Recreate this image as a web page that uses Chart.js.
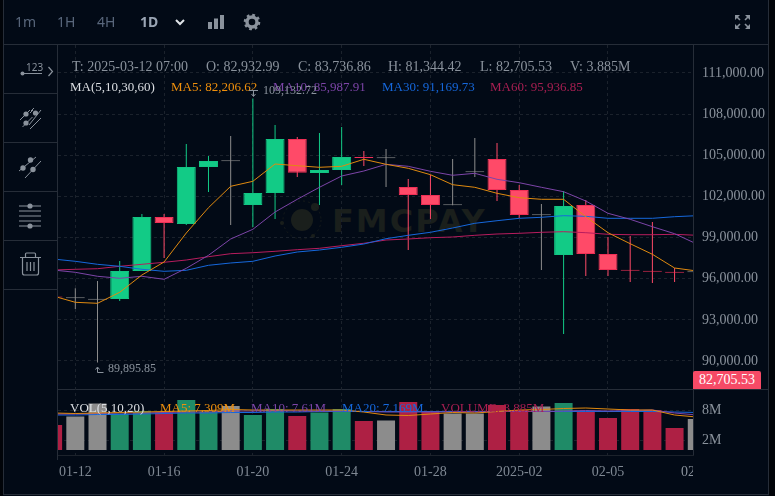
<!DOCTYPE html>
<html><head><meta charset="utf-8">
<style>
html,body{margin:0;padding:0;background:#000;}
#wrap{position:relative;width:775px;height:496px;background:#020a16;overflow:hidden;font-family:"Liberation Serif",serif;}
canvas{position:absolute;left:0;top:0;}
.t{position:absolute;white-space:pre;font-size:14px;line-height:16px;color:#8a929c;}
.tb{position:absolute;white-space:pre;font-family:"Noto Sans",sans-serif;font-size:14px;line-height:18px;color:#59677c;top:13px;}
.ln{position:absolute;background:#262d38;}
svg{position:absolute;overflow:visible;}
</style></head><body>
<div id="wrap">
  <div class="ln" style="left:3px;top:0;width:1px;height:495px"></div>
  <div class="ln" style="left:768px;top:0;width:1px;height:495px"></div>
  <div class="ln" style="left:3px;top:494px;width:766px;height:1px"></div>
  <div style="position:absolute;left:769px;top:0;width:6px;height:496px;background:#010409"></div>
  <div style="position:absolute;left:0;top:0;width:3px;height:496px;background:#010409"></div>
  <div class="ln" style="left:3px;top:44px;width:765px;height:1px"></div>
  <div class="ln" style="left:57px;top:45px;width:1px;height:415px"></div>
  <div class="ln" style="left:693px;top:45px;width:1px;height:410px"></div>
  <div class="ln" style="left:58px;top:389px;width:710px;height:1px"></div>
  <div class="ln" style="left:58px;top:455px;width:636px;height:1px;background:#1c222b"></div>
  <div class="ln" style="left:3px;top:93px;width:54px;height:1px"></div>
  <div class="ln" style="left:3px;top:142px;width:54px;height:1px"></div>
  <div class="ln" style="left:3px;top:191px;width:54px;height:1px"></div>
  <div class="ln" style="left:3px;top:240px;width:54px;height:1px"></div>
  <div class="ln" style="left:3px;top:289px;width:54px;height:1px"></div>

  <!-- watermark -->
  <svg style="left:0;top:0" width="775" height="496">
    <circle cx="302" cy="220" r="11" fill="#1a1f1c"/>
    <circle cx="315" cy="207" r="4" fill="#1a1f1c"/>
    <circle cx="282" cy="223" r="2" fill="#1a1f1c"/>
    <circle cx="313" cy="236" r="2" fill="#1a1f1c"/>
    <circle cx="302" cy="220" r="19" fill="none" stroke="#161b1b" stroke-width="1" stroke-dasharray="2 3"/>
  </svg>
  <div style="position:absolute;left:332px;top:203px;font:bold 32px 'DejaVu Sans',sans-serif;letter-spacing:2px;color:#1a1f1c;line-height:36px">FMCPAY</div>

  <canvas id="c" width="775" height="496"></canvas>

  <!-- toolbar -->
  <div class="tb" style="left:15px">1m</div>
  <div class="tb" style="left:57px">1H</div>
  <div class="tb" style="left:97px">4H</div>
  <div class="tb" style="left:140px;font-weight:700;color:#9aa5b4">1D</div>
  <svg style="left:0;top:0" width="775" height="44">
    <path d="M176 20l4 4 4-4" fill="none" stroke="#dfe3e8" stroke-width="2"/>
    <rect x="208" y="22" width="4" height="7" fill="#8a929c"/><rect x="214" y="18.5" width="4" height="10.5" fill="#8a929c"/><rect x="220" y="15" width="4" height="14" fill="#8a929c"/>
    <circle cx="252" cy="22" r="5" fill="none" stroke="#8a929c" stroke-width="3.4"/>
    <circle cx="252" cy="22" r="7" fill="none" stroke="#8a929c" stroke-width="2.6" stroke-dasharray="2.7 2.8"/>
    <g fill="none" stroke="#8a929c" stroke-width="1.6">
      <path d="M736 16l4 4M749 16l-4 4M736 28l4-4M749 28l-4-4"/>
    </g>
    <g fill="#8a929c">
      <path d="M735 15h5l-5 5zM750 15h-5l5 5zM735 29h5l-5-5zM750 29h-5l5-5z"/>
    </g>
  </svg>

  <!-- sidebar icons -->
  <svg style="left:0;top:0" width="60" height="300">
    <g stroke="#8a929c" fill="#8a929c">
      <path d="M22 73.5H42" stroke-width="1"/><circle cx="22.5" cy="73.5" r="2" stroke="none"/>
      <path d="M48.5 67l4 4.500-4 4.500" fill="none" stroke-width="1.200"/>
      <path d="M20 120l10-10M33 110l-3 3M22.500 127l10-10M30 129l11-11M34 108l-3 3M29 125l12-15" stroke-width="1" fill="none"/>
      <circle cx="26" cy="114" r="2.600" stroke="none"/><circle cx="35.500" cy="113" r="2.600" stroke="none"/><circle cx="26" cy="123" r="2.600" stroke="none"/>
      <path d="M19 171l17-14M25 178l16-17" stroke-width="1" fill="none"/>
      <circle cx="30.500" cy="160" r="2.700" stroke="none"/><circle cx="23" cy="168" r="2.700" stroke="none"/><circle cx="33" cy="169.500" r="2.700" stroke="none"/>
      <path d="M19 206H41M19 211H41M19 216H41M19 221H41M19 226H41" stroke-width="1" fill="none"/>
      <circle cx="30" cy="206" r="2.600" stroke="none"/><circle cx="30" cy="226" r="2.600" stroke="none"/>
      <g fill="none" stroke-width="1.200">
        <path d="M20 257.500H41M25.500 257.500v-3.500a1 1 0 0 1 1-1h8a1 1 0 0 1 1 1v3.500M22.500 258v15a2 2 0 0 0 2 2h12a2 2 0 0 0 2-2v-15M27 262v9M30.500 262v9M34 262v9"/>
      </g>
    </g>
  </svg>
  <div class="t" style="left:26px;top:61px;font:10px/12px 'Noto Sans',sans-serif;color:#8a929c">123</div>

  <!-- legend rows -->
  <div class="t" style="left:72px;top:59px">T: 2025-03-12 07:00</div>
  <div class="t" style="left:206px;top:59px">O: 82,932.99</div>
  <div class="t" style="left:298px;top:59px">C: 83,736.86</div>
  <div class="t" style="left:388px;top:59px">H: 81,344.42</div>
  <div class="t" style="left:480px;top:59px">L: 82,705.53</div>
  <div class="t" style="left:570px;top:59px">V: 3.885M</div>
  <div class="t" style="left:70px;top:79px;color:#dcdfe3;font-size:13px">MA(5,10,30,60)</div>
  <div class="t" style="left:171px;top:79px;color:#ef8f0c;font-size:13px">MA5: 82,206.62</div>
  <div class="t" style="left:273px;top:79px;color:#7d45a8;font-size:13px">MA10: 85,987.91</div>
  <div class="t" style="left:382px;top:79px;color:#1668dc;font-size:13px">MA30: 91,169.73</div>
  <div class="t" style="left:490px;top:79px;color:#a91f52;font-size:13px">MA60: 95,936.85</div>
  <div class="t" style="left:263px;top:82px;font-size:12px;color:#8a929c">109,132.72</div>
  <svg style="left:0;top:0" width="300" height="380">
    <path d="M249 90.500h9M253.500 91v5M251.500 94l2 2.500 2-2.500" fill="none" stroke="#8a929c" stroke-width="1"/>
    <path d="M97.500 372.500h6M97.500 372.500v-5M95.500 369.500l2-2.500 2 2.500" fill="none" stroke="#8a929c" stroke-width="1"/>
  </svg>
  <div class="t" style="left:108px;top:360px;font-size:12px;color:#8a929c">89,895.85</div>

  <div class="t" style="left:70px;top:400px;color:#dcdfe3;font-size:13px">VOL(5,10,20)</div>
  <div class="t" style="left:160px;top:400px;color:#ef8f0c;font-size:13px">MA5: 7.309M</div>
  <div class="t" style="left:251px;top:400px;color:#7d45a8;font-size:13px">MA10: 7.61M</div>
  <div class="t" style="left:342px;top:400px;color:#1668dc;font-size:13px">MA20: 7.169M</div>
  <div class="t" style="left:441px;top:400px;color:#a91f52;font-size:13px">VOLUME: 3.885M</div>

  <!-- last price -->
  <div style="position:absolute;left:693px;top:371px;width:68px;height:18px;background:#f64a66;border-radius:2px 2px 0 0;color:#fff;font-size:14px;line-height:18px;text-align:center">82,705.53</div>
  <!-- clipped last date -->
  <div style="position:absolute;left:58px;top:463px;width:635px;height:18px;overflow:hidden"><div id="lastDate" class="t" style="left:623px;top:1px;font-size:14px"></div></div>
</div>
<script src="https://cdn.jsdelivr.net/npm/chart.js@4"></script>
<script>
const dates=["01-11","01-12","01-13","01-14","01-15","01-16","01-17","01-18","01-19","01-20","01-21","01-22","01-23","01-24","01-25","01-26","01-27","01-28","01-29","01-30","01-31","2025-02","02-02","02-03","02-04","02-05","02-06","02-07","02-08","02-09"];
const opens =[94686,94569,94467,94518,96559,100494,99984,104138,104553,101369,102243,106178,103701,103919,104845,104772,102680,102097,101347,103752,104721,102462,100618,97725,101369,97798,96610,96537,96464,96464];
const closes=[94628,94569,94467,96559,100494,100057,104138,104575,104553,102243,106178,103722,103919,104867,104800,104772,102097,101369,101347,103752,102462,100640,100618,101296,97798,96632,96570,96500,96430,96464];
const highs =[94900,95298,95830,97288,100713,100713,105814,104939,106397,109133,107199,106324,106616,107053,105304,105450,103263,103577,104721,106251,105887,102826,101441,102389,101733,99037,99109,100130,96777,96600];
const lows  =[94400,93790,89896,94373,96559,97506,99911,102316,99911,99765,100348,103409,101369,102826,104211,102680,98089,100348,101347,103409,101660,100421,96632,91968,96194,96194,95757,95684,95757,96300];
const ma5   =[94737,94278,94205,95006,96267,97215,99328,101172,102731,103096,104356,104232,104116,104189,104699,104335,104043,103577,102848,102658,102221,101901,101784,101784,100516,99350,98548,97776,96777,96559];
const ma10  =[96632,96464,96173,96027,96173,95954,96756,97703,98891,99598,100858,101784,102658,103482,103846,104335,104189,103824,103533,103679,103241,102994,102658,102338,101660,100764,100326,99787,99277,98526];
const ma30  =[97433,97266,97047,96901,96683,96537,96610,96974,97142,97266,97652,97943,98089,98286,98526,98913,99160,99379,99692,100035,100224,100399,100472,100589,100545,100399,100399,100399,100516,100589];
const ma60  =[96632,96683,96726,96901,97047,97193,97360,97601,97820,97892,97994,98111,98213,98403,98578,98818,98891,98986,99037,99160,99255,99306,99379,99423,99350,99233,99204,99204,99233,99160];
const volumes=[5,6.7,9.3,7.3,7.8,7.5,10,7.7,8.8,7,8.2,6.8,7.5,8.2,5.8,5.9,9.6,7.8,7.3,7.3,9,8,8.7,9.4,7.7,6.4,8.2,8,4.4,6.2];
const volMa5 =[7.4,7.3,7.4,7.5,7.6,7.7,7.8,7.9,8.1,8.0,8.0,8.0,8.0,8.0,7.6,7.0,6.9,7.2,7.5,7.4,7.7,8.0,8.1,8.3,8.4,8.2,8.0,8.0,7.0,6.6];
const volMa10=[7.2,7.2,7.3,7.4,7.4,7.5,7.6,7.6,7.8,7.8,7.9,7.8,7.8,7.8,7.7,7.6,7.6,7.6,7.6,7.6,7.7,7.7,7.7,7.8,7.9,7.8,7.9,8.0,7.4,7.0];
const volMa20=[7.0,7.0,7.1,7.1,7.2,7.3,7.4,7.4,7.5,7.5,7.6,7.6,7.7,7.7,7.7,7.7,7.7,7.7,7.7,7.7,7.7,7.7,7.7,7.7,7.7,7.7,7.7,7.7,7.6,7.5];
const priceTicks=[90000,93000,96000,99000,102000,105000,108000,111000];
const volTicks=[2,8];
const dateTickIdx=[1,5,9,13,17,21,25];

const GREEN='#12cb86',RED='#ff4a68',GREY='#8c8c8c';
const kind=dates.map((d,i)=>closes[i]>opens[i]?'up':(closes[i]<opens[i]?'down':'flat'));
const candleColor=kind.map(k=>k==='up'?GREEN:k==='down'?RED:GREY);
const borderColor=kind.map(k=>k==='up'?'#12c583':k==='down'?'#f02f56':GREY);
const volColor=kind.map(k=>k==='up'?'#1f8b67':k==='down'?'#ae2044':GREY);
const xs=dates.map((d,i)=>i);
const pts=a=>a.map((y,i)=>({x:i,y}));
const line=(label,data,color,yAxisID,order)=>({type:'line',label,data:pts(data),yAxisID,borderColor:color,borderWidth:1,pointRadius:0,tension:0,order,fill:false});
const fmtPrice=v=>v.toLocaleString('en-US',{minimumFractionDigits:2,maximumFractionDigits:2});
const GRID='#1b222c';

document.getElementById('lastDate').textContent=dates[29];

new Chart(document.getElementById('c'),{
  type:'bar',
  data:{datasets:[
    line('MA5',ma5,'#e08a10','y',1),
    line('MA10',ma10,'#7d45a8','y',2),
    line('MA30',ma30,'#1668dc','y',3),
    line('MA60',ma60,'#b81d5e','y',4),
    {label:'Body',data:xs.map(i=>({x:i,y:[opens[i],closes[i]]})),yAxisID:'y',backgroundColor:candleColor,borderColor:borderColor,borderWidth:1,barThickness:19,grouped:false,order:5,inflateAmount:0,borderSkipped:false,minBarLength:1},
    {label:'Wick',data:xs.map(i=>({x:i,y:[lows[i],highs[i]]})),yAxisID:'y',backgroundColor:candleColor,borderWidth:0,barThickness:1,grouped:false,order:6,inflateAmount:0},
    line('Vol MA5',volMa5,'#e08a10','v',7),
    line('Vol MA10',volMa10,'#7d45a8','v',8),
    line('Vol MA20',volMa20,'#1668dc','v',9),
    {label:'Volume',data:xs.map(i=>({x:i,y:volumes[i]})),yAxisID:'v',backgroundColor:volColor,borderWidth:0,barThickness:18,grouped:false,order:10,inflateAmount:0}
  ]},
  options:{
    responsive:false,animation:false,
    layout:{padding:{left:58,top:45,right:0,bottom:0}},
    plugins:{legend:{display:false},tooltip:{enabled:false}},
    scales:{
      x:{type:'linear',offset:false,min:0.22,max:28.83,
        afterBuildTicks:s=>{s.ticks=dateTickIdx.map(value=>({value}));},
        afterFit:s=>{s.height=41;},
        grid:{color:GRID,lineWidth:1,drawTicks:false,offset:false},
        border:{display:false,dash:[3,3]},
        ticks:{autoSkip:false,maxRotation:0,padding:9,color:'#7f8893',font:{family:'"Liberation Serif"',size:14},callback:v=>dates[v]}
      },
      y:{type:'linear',position:'right',stack:'p',stackWeight:344.5,min:87923,max:113029,
        afterBuildTicks:s=>{s.ticks=priceTicks.map(value=>({value}));},
        afterFit:s=>{s.width=82;},
        grid:{color:GRID,lineWidth:1,drawTicks:false},
        border:{display:false,dash:[3,3]},
        ticks:{autoSkip:false,padding:9,color:'#8a929c',font:{family:'"Liberation Serif"',size:14},callback:v=>fmtPrice(v)}
      },
      v:{type:'linear',position:'right',stack:'p',stackWeight:65.5,min:-1,max:12.1,
        afterBuildTicks:s=>{s.ticks=volTicks.map(value=>({value}));},
        afterFit:s=>{s.width=82;},
        grid:{color:GRID,lineWidth:1,drawTicks:false},
        border:{display:false,dash:[3,3]},
        ticks:{autoSkip:false,padding:9,color:'#8a929c',font:{family:'"Liberation Serif"',size:14},callback:v=>v+'M'}
      }
    }
  }
});
</script>
</body></html>
